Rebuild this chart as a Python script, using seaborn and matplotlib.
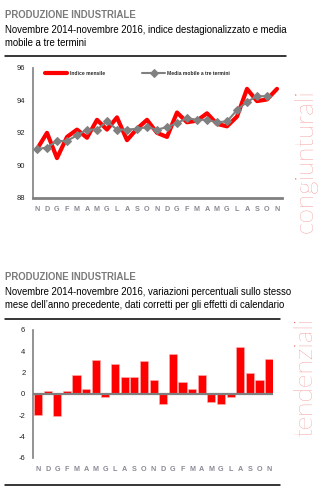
import matplotlib
matplotlib.use("Agg")
import matplotlib.pyplot as plt
from matplotlib.lines import Line2D
from matplotlib import font_manager
import seaborn as sns
import pandas as pd

# --- data -------------------------------------------------------------
months = ["N", "D", "G", "F", "M", "A", "M", "G", "L", "A", "S", "O",
          "N", "D", "G", "F", "M", "A", "M", "G", "L", "A", "S", "O", "N"]

indice_mensile = [91.0, 92.0, 90.45, 91.75, 92.2, 91.7, 92.8, 92.2, 92.95,
                  91.55, 92.25, 92.8, 92.0, 91.75, 93.25, 92.65, 92.75,
                  93.2, 92.55, 92.4, 93.0, 94.7, 93.95, 94.05, 94.7]

media_mobile = [91.0, 91.1, 91.5, 91.5, 91.85, 92.2, 92.2, 92.7, 92.2,
                92.2, 92.25, 92.35, 92.2, 92.35, 92.6, 92.9, 92.8, 92.8,
                92.65, 92.7, 93.4, 93.9, 94.25, 94.25, None]

var_tendenziali = [-2.0, 0.25, -2.1, 0.25, 1.8, 0.5, 3.2, -0.3, 2.85, 1.6,
                   1.6, 3.1, 1.35, -0.9, 3.75, 1.1, 0.5, 1.75, -0.75, -0.9,
                   -0.3, 4.4, 2.0, 1.35, 3.25]

title = "PRODUZIONE INDUSTRIALE"
sub1_lines = ["Novembre 2014-novembre 2016, indice destagionalizzato e media",
              "mobile a tre termini"]
sub2_lines = ["Novembre 2014-novembre 2016, variazioni percentuali sullo stesso",
              "mese dell\u2019anno precedente, dati corretti per gli effetti di calendario"]

# --- style ------------------------------------------------------------
sns.set_style("white")
names = {f.name for f in font_manager.fontManager.ttflist}
narrow = "Liberation Sans Narrow" if "Liberation Sans Narrow" in names else "Liberation Sans"
plt.rcParams["font.family"] = ["Liberation Sans", "DejaVu Sans"]
plt.rcParams["axes.unicode_minus"] = False

W, H = 326, 503
DPI = 100
fig = plt.figure(figsize=(W / DPI, H / DPI), dpi=DPI)
fig.patch.set_facecolor("white")


def box(x0, y0, x1, y1):
    """Axes rectangle from pixel coordinates (top-left origin)."""
    return [x0 / W, 1 - y1 / H, (x1 - x0) / W, (y1 - y0) / H]


def fy(y):
    return 1 - y / H


RED = "#ff0000"
GREY = "#808080"
TITLE_GREY = "#7a7a7a"
SIDE = "#ee6464"
TICK_GREY = "#8a8a96"

# headings
for (y_t, y_s, lines) in [(18.3, 33.0, sub1_lines), (280.0, 295.0, sub2_lines)]:
    fig.text(5 / W, fy(y_t), title, color=TITLE_GREY, fontsize=6.9,
             fontweight="bold", family=narrow, va="baseline", ha="left")
    for k, line in enumerate(lines):
        fig.text(5 / W, fy(y_s + 12.8 * k), line, color="black", fontsize=6.9,
                 family=narrow, va="baseline", ha="left")

# horizontal rules
for (y, x0, x1) in [(55.5, 5, 286), (318.5, 5, 280), (484.5, 5, 280)]:
    fig.add_artist(Line2D([x0 / W, x1 / W], [fy(y), fy(y)], color="black",
                          lw=1.1, transform=fig.transFigure))

# --- top chart: monthly index and moving average ------------------------
df_top = pd.DataFrame({
    "pos": list(range(len(months))),
    "Indice mensile": indice_mensile,
    "Media mobile a tre termini": [float("nan") if v is None else v for v in media_mobile],
})

ax1 = fig.add_axes(box(33, 67.7, 282, 198))
sns.lineplot(data=df_top, x="pos", y="Indice mensile", ax=ax1, color=RED,
             lw=3.0, label="Indice mensile")
sns.lineplot(data=df_top, x="pos", y="Media mobile a tre termini", ax=ax1,
             color=GREY, lw=1.5, marker="D", markersize=4.2, markeredgecolor=GREY,
             label="Media mobile a tre termini")
ax1.set_xlim(-0.4, 24.5)
ax1.set_ylim(88, 96)
ax1.set_yticks([88, 90, 92, 94, 96])
ax1.set_xticks(range(len(months)))
ax1.set_xticklabels(months)
ax1.set_xlabel("")
ax1.set_ylabel("")
for s in ["top", "right"]:
    ax1.spines[s].set_visible(False)
ax1.spines["left"].set_color(GREY)
ax1.spines["left"].set_linewidth(1.2)
ax1.spines["bottom"].set_color(GREY)
ax1.spines["bottom"].set_linewidth(2.0)
ax1.tick_params(axis="y", direction="inout", length=5, width=1, color=GREY,
                labelsize=5.5, labelcolor="#222222", pad=3)
ax1.tick_params(axis="x", length=0, labelsize=5.2, labelcolor=TICK_GREY, pad=6)
for t in ax1.get_xticklabels():
    t.set_fontweight("bold")
leg = ax1.legend(ncol=2, loc="upper center", bbox_to_anchor=(0.42, 1.0),
                 frameon=False, fontsize=3.6, handlelength=4.5,
                 columnspacing=7.5, handletextpad=0.5, borderaxespad=0.3)
for t in leg.get_texts():
    t.set_fontweight("bold")

# --- bottom chart: year-on-year changes ---------------------------------
df_bot = pd.DataFrame({"pos": list(range(len(months))),
                       "variazione": var_tendenziali})

ax2 = fig.add_axes(box(33, 330, 273, 458))
sns.barplot(data=df_bot, x="pos", y="variazione", ax=ax2, color=RED,
            saturation=1, width=0.84, edgecolor="#ffb0b0", linewidth=0.4)
ax2.axhline(0, color=GREY, lw=1.6, zorder=3)
ax2.set_xlim(-0.52, 24.4)
ax2.set_ylim(-6, 6)
ax2.set_yticks([-6, -4, -2, 0, 2, 4, 6])
ax2.set_xticks(range(len(months)))
ax2.set_xticklabels(months)
ax2.set_xlabel("")
ax2.set_ylabel("")
for s in ["top", "right", "bottom"]:
    ax2.spines[s].set_visible(False)
ax2.spines["left"].set_color(GREY)
ax2.spines["left"].set_linewidth(1.2)
ax2.tick_params(axis="y", direction="inout", length=5, width=1, color=GREY,
                labelsize=5.5, labelcolor="#222222", pad=3)
ax2.tick_params(axis="x", length=0, labelsize=5.2, labelcolor=TICK_GREY, pad=6)
for t in ax2.get_xticklabels():
    t.set_fontweight("bold")

# side captions
light_family = ["Lato", "Open Sans", "DejaVu Sans"]
fig.text(305 / W, fy(161), "congiunturali", rotation=90, color=SIDE,
         fontsize=19, family=light_family, fontweight="light",
         ha="center", va="center")
fig.text(305 / W, fy(377), "tendenziali", rotation=90, color=SIDE,
         fontsize=19, family=light_family, fontweight="light",
         ha="center", va="center")

fig.savefig("out.png", dpi=DPI, facecolor="white")
